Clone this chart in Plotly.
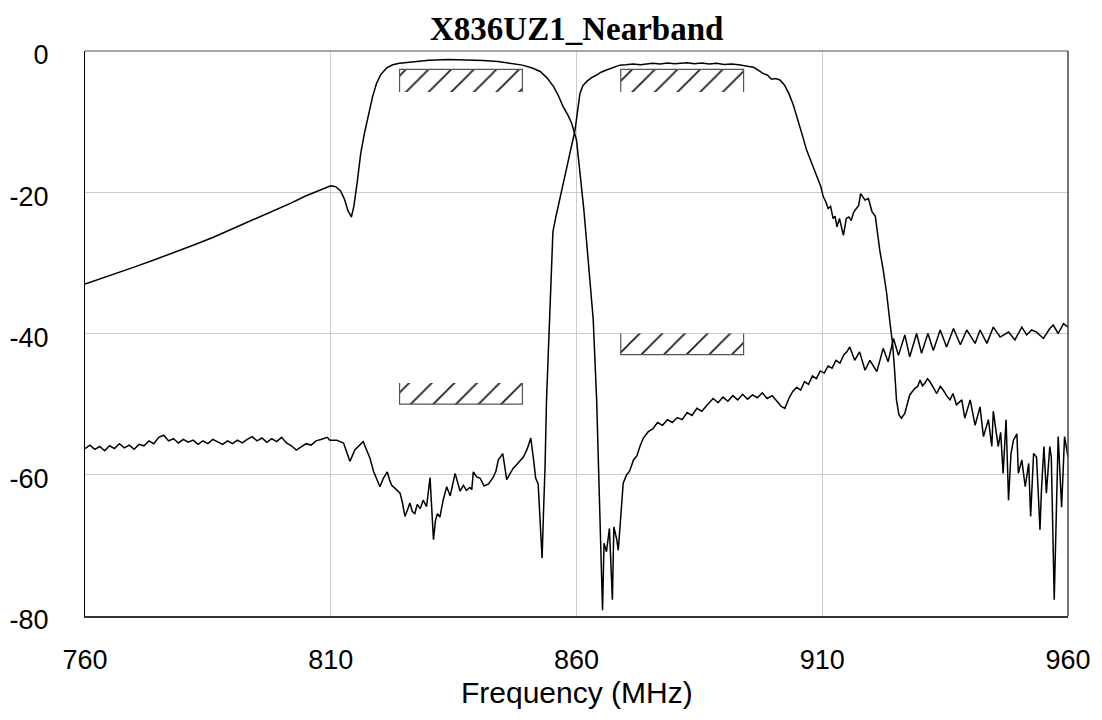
import plotly.graph_objects as go

# ---------------- data ----------------
freq_tx = [760, 763, 766, 770, 774, 778, 782, 786, 790, 794, 798, 802, 805, 807, 809, 810, 811, 812,
           812.8, 813.5, 814.2, 814.7, 815.4, 816.1, 816.9, 817.6, 818.5, 819.3, 820.2, 821.4, 822.6, 824,
           827, 830, 834, 838, 841, 844, 847, 849, 851, 852.6, 854, 855.3, 856.3, 857.3, 858.2, 859,
           860, 860.7, 861.5, 862.3, 863, 863.4, 864.1, 864.8, 865.3, 865.6, 866.1, 866.7, 867.1, 867.3,
           867.6, 868.2, 868.5, 869.2, 869.5, 870.2, 870.8, 871.6, 872.3, 872.9, 873.6, 874.6, 875.5,
           876.5, 877.5, 878.5, 879.5, 880.5, 881.5, 882.5, 883.5, 884.5, 885.5, 886.5, 887.8, 888.8,
           889.8, 890.8, 891.8, 892.8, 893.8, 894.8, 895.8, 896.8, 897.8, 898.8, 899.8, 900.8, 901.6,
           902.4, 903.2, 904, 904.8, 905.6, 906.4, 907.2, 908, 908.8, 909.6, 910.4, 911.2, 912, 912.8,
           913.6, 914.4, 915, 915.6, 916.6, 917.6, 918.7, 919.7, 921.1, 922.4, 923.4, 924.5, 925.5,
           926.8, 927.8, 929.2, 930.2, 931.5, 932.6, 934, 935.3, 936.7, 938.1, 939.4, 941.1, 942.1,
           943.5, 944.8, 946.2, 947.9, 949.2, 950.6, 951.6, 952.6, 953.6, 955, 956.3, 957, 958, 959.1,
           960]
loss_tx = [-33.0, -32.3, -31.6, -30.6, -29.6, -28.6, -27.5, -26.4, -25.2, -24.0, -22.8, -21.5, -20.5,
           -19.9, -19.3, -19.1, -19.2, -19.8, -21.0, -22.6, -23.5, -22.0, -18.5, -14.5, -11.5, -9.2,
           -6.5, -4.6, -3.3, -2.4, -1.95, -1.75, -1.5, -1.3, -1.2, -1.25, -1.35, -1.5, -1.75, -2.0,
           -2.4, -2.9, -3.8, -5.0, -6.3, -7.9, -9.0, -10.2, -12.6, -16.8, -22.5, -29.0, -34.5, -38.0,
           -49.4, -65.9, -79.2, -69.7, -70.9, -67.6, -75.1, -77.7, -67.4, -69.2, -70.7, -64.5, -61.2,
           -60.0, -59.5, -57.9, -57.3, -56.0, -54.8, -53.9, -53.5, -52.6, -53.0, -52.2, -52.6, -51.9,
           -52.2, -51.2, -51.6, -50.6, -51.0, -50.2, -49.2, -49.8, -49.0, -49.6, -48.8, -49.4, -48.6,
           -49.3, -48.7, -49.1, -48.4, -49.2, -48.8, -49.6, -50.3, -50.6, -49.2, -48.2, -47.6, -48.0,
           -46.8, -47.2, -46.0, -46.4, -45.3, -45.6, -44.6, -44.9, -43.8, -44.2, -43.0, -42.6, -41.9,
           -43.8, -42.6, -45.2, -43.8, -45.4, -42.1, -44.0, -40.7, -43.1, -40.2, -43.3, -40.0, -42.8,
           -40.0, -42.4, -39.5, -41.9, -39.3, -41.6, -39.5, -41.4, -39.5, -41.4, -39.1, -40.5, -39.8,
           -40.9, -39.1, -40.2, -39.5, -39.8, -40.7, -39.3, -38.8, -40.0, -38.6, -39.1]

freq_rx = [760, 761, 762, 763, 764, 765, 766, 767, 768, 769, 770, 771, 772, 773, 774, 775, 776, 777,
           778, 779, 780, 781, 782, 783, 784, 785, 786, 787, 788, 789, 790, 791, 792, 793, 794, 795,
           796, 797, 798, 799, 800, 801, 802, 803, 804, 805, 806, 807, 808, 809.3, 809.8, 811.2, 812.6,
           813.3, 813.9, 814.9, 815.8, 816.6, 817.3, 818, 818.7, 819.3, 820, 820.7, 821.5, 822, 822.4,
           823.2, 824.1, 824.6, 825.1, 825.6, 826.1, 826.6, 827.1, 827.6, 828.2, 828.8, 829.5, 830.2,
           830.9, 831.3, 831.7, 832.2, 832.9, 833.6, 834.3, 835.3, 836.3, 837, 837.6, 838.3, 838.7,
           839, 839.7, 840.4, 841.2, 842.1, 843.1, 843.6, 844.1, 845, 845.8, 846.5, 847.1, 847.8,
           848.5, 849.2, 850, 850.7, 851.2, 851.7, 852.2, 852.6, 853, 853.3, 853.6, 853.9, 854.2,
           854.6, 854.9, 855.2, 855.8, 856.6, 857.6, 858.7, 859.7, 860.7, 861.3, 862.1, 863, 864.1,
           865, 866.1, 867.5, 868.8, 870, 871.5, 873, 874.3, 875.5, 877, 878.5, 880, 881.1, 882.5,
           884, 885.5, 887, 888.5, 890, 891.5, 893, 894.6, 896, 897.2, 898, 898.8, 899.7, 900.5,
           901.4, 902.3, 903.2, 904.1, 905, 905.9, 906.8, 907.5, 908.2, 909.2, 909.7, 910.2, 910.7,
           911.2, 911.7, 912.2, 912.6, 913.0, 913.5, 914.3, 914.9, 915.4, 915.9, 916.3, 916.7, 917.4,
           917.8, 918.3, 918.7, 919.4, 920.1, 920.8, 921.7, 922.4, 923.1, 923.8, 924.3, 924.7, 925.1,
           925.6, 926.1, 926.8, 927.3, 927.8, 928.8, 929.4, 929.9, 930.4, 930.9, 931.4, 931.9, 932.6,
           933.3, 934, 934.6, 935.3, 936, 936.6, 937.3, 938.4, 939, 940.1, 941.1, 942.1, 942.8,
           943.8, 944.5, 944.8, 945.8, 946.3, 946.8, 947.4, 947.9, 948.4, 948.9, 949.6, 949.9, 950.6,
           951.3, 952.0, 952.4, 953.0, 953.6, 954.3, 954.6, 955.1, 955.6, 956.3, 956.6, 957.2, 958.0,
           958.7, 959.3, 960]
loss_rx = [-56.3, -55.8, -56.4, -56.0, -56.6, -55.9, -56.3, -55.6, -56.2, -55.8, -56.4, -55.7, -55.9,
           -55.2, -55.6, -54.7, -54.4, -55.2, -54.9, -55.5, -55.0, -55.4, -55.1, -55.7, -55.2, -55.6,
           -55.0, -55.3, -55.7, -55.2, -55.6, -55.1, -55.5, -55.0, -54.6, -55.2, -54.8, -55.4, -54.9,
           -55.3, -54.7, -55.5, -55.9, -56.5, -56.0, -55.6, -55.8, -55.2, -55.0, -54.7, -55.1, -55.1,
           -55.5, -56.8, -58.1, -56.5, -55.8, -55.3, -56.5, -57.7, -59.5, -60.5, -61.7, -60.5, -59.6,
           -60.8, -61.5, -62.0, -62.6, -64.0, -65.9, -65.0, -64.0, -65.2, -65.5, -64.2, -64.8, -63.6,
           -64.5, -60.4, -69.2, -66.5, -65.5, -66.0, -63.5, -61.7, -63.0, -59.8, -62.3, -61.5, -62.2,
           -61.8, -62.1, -59.6, -60.3, -60.5, -61.6, -61.3, -60.3, -59.5, -57.9, -57.0, -60.7, -59.8,
           -59.1, -58.6, -58.0, -57.5, -56.3, -54.8, -57.5, -60.5, -61.3, -66.0, -71.8, -65.0, -58.9,
           -49.4, -44.0, -38.0, -31.0, -25.6, -23.5, -21.0, -17.8, -14.5, -11.2, -6.0, -4.9, -4.3,
           -3.8, -3.4, -3.0, -2.7, -2.3, -2.0, -1.95, -1.85, -1.95, -1.84, -1.75, -1.85, -1.7, -1.8,
           -1.75, -1.65, -1.8, -1.7, -1.85, -1.75, -1.9, -1.85, -1.95, -2.1, -2.3, -2.8, -3.2, -3.4,
           -4.0, -3.9, -4.1, -4.8, -6.0, -7.6, -9.6, -11.8, -14.0, -15.2, -16.4, -18.3, -19.2, -20.6,
           -21.3, -22.3, -22.0, -23.7, -23.4, -24.9, -23.7, -26.1, -23.7, -23.5, -24.0, -23.0, -22.5,
           -21.9, -20.2, -20.7, -21.1, -20.9, -22.7, -23.4, -28.2, -31.0, -34.3, -38.6, -41.4, -45.0,
           -49.4, -51.5, -52.0, -51.3, -50.0, -48.7, -47.8, -47.5, -46.6, -47.4, -47.0, -46.4, -46.8,
           -47.6, -48.5, -47.5, -48.0, -48.8, -49.4, -48.5, -50.1, -49.4, -52.0, -49.4, -53.0, -50.4,
           -54.6, -52.2, -56.0, -51.0, -56.0, -54.0, -59.8, -52.2, -63.6, -57.0, -55.1, -54.2, -59.8,
           -57.9, -61.7, -58.4, -65.9, -57.0, -57.5, -67.8, -62.2, -56.0, -62.6, -56.0, -57.5, -77.7,
           -54.6, -64.6, -54.6, -57.5]

# spec masks (MHz, dB)
mask_f_lo = [824, 869, 824, 869]
mask_f_hi = [849, 894, 849, 894]
mask_db_top = [-2.6, -2.6, -47.0, -40.0]
mask_db_bot = [-5.8, -5.8, -50.0, -43.0]
mask_kind = ["pass", "pass", "reject", "reject"]

x_ticks = [760, 810, 860, 910, 960]
y_ticks = [0, -20, -40, -60, -80]

title_text = "X836UZ1_Nearband"

# ---------------- figure ----------------
# (page body has an 8px default margin, so the figure is 8px smaller than the window)
fig = go.Figure()

for lo, hi, top, bot, kind in zip(mask_f_lo, mask_f_hi, mask_db_top, mask_db_bot, mask_kind):
    fig.add_trace(go.Scatter(
        x=[lo, hi, hi, lo, lo], y=[top, top, bot, bot, top], mode="lines",
        fill="toself", fillcolor="rgba(0,0,0,0)", line=dict(width=0, color="rgba(0,0,0,0)"),
        fillpattern=dict(shape="/", size=16, solidity=0.1, fgcolor="#111111",
                         bgcolor="rgba(0,0,0,0)", fillmode="replace"),
        hoverinfo="skip", showlegend=False))
    if kind == "pass":
        ox, oy = [lo, lo, hi, hi], [bot, top, top, bot]
    else:
        ox, oy = [lo, lo, hi, hi], [top, bot, bot, top]
    fig.add_trace(go.Scatter(x=ox, y=oy, mode="lines", line=dict(color="#555555", width=1.2),
                             hoverinfo="skip", showlegend=False))

fig.add_trace(go.Scatter(x=freq_tx, y=loss_tx, mode="lines", line=dict(color="black", width=1.5),
                         showlegend=False, name="Tx"))
fig.add_trace(go.Scatter(x=freq_rx, y=loss_rx, mode="lines", line=dict(color="black", width=1.5),
                         showlegend=False, name="Rx"))

fig.update_layout(
    width=1094, height=712,
    margin=dict(l=77, r=34, t=43, b=104, autoexpand=False),
    paper_bgcolor="white", plot_bgcolor="white",
    font=dict(family="Liberation Sans", color="black"),
)
fig.update_xaxes(range=[760, 960], tickvals=x_ticks, ticktext=[str(v) for v in x_ticks],
                 showgrid=True, gridcolor="#cccccc", gridwidth=1, zeroline=False,
                 showline=True, linecolor="#333333", linewidth=2, ticks="", automargin=False,
                 tickfont=dict(size=27, family="Liberation Sans"), ticklabelstandoff=19)
fig.update_yaxes(range=[-80, 0], tickvals=y_ticks, ticktext=[str(v) for v in y_ticks],
                 showgrid=True, gridcolor="#cccccc", gridwidth=1, zeroline=False,
                 showline=True, linecolor="black", linewidth=1, ticks="", automargin=False,
                 tickfont=dict(size=27, family="Liberation Sans"), ticklabelstandoff=30,
                 ticklabelshift=4)

# frame top (gray) and right (dark)
fig.add_shape(type="line", xref="paper", yref="paper", x0=0, x1=1, y0=1, y1=1,
              line=dict(color="#888888", width=1.5))
fig.add_shape(type="line", xref="paper", yref="paper", x0=1, x1=1, y0=0, y1=1,
              line=dict(color="#444444", width=1.5))

# chart title (kept fully inside the figure)
fig.add_annotation(text="<b>" + title_text + "</b>", xref="paper", yref="paper", x=0.5, y=1.0743,
                   xanchor="center", yanchor="top", showarrow=False,
                   font=dict(family="Liberation Serif", size=33, color="black"))

fig.add_annotation(text="Frequency (MHz)", xref="paper", yref="paper", x=0.5, y=-0.136,
                   xanchor="center", yanchor="middle", showarrow=False,
                   font=dict(family="Liberation Sans", size=30, color="black"))

fig.write_html("out.html")
